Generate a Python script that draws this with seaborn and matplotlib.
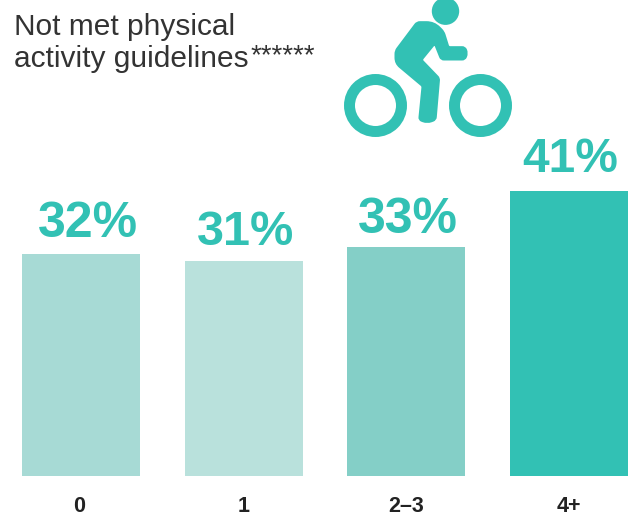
import matplotlib
matplotlib.use("Agg")
import matplotlib.pyplot as plt
import numpy as np
import seaborn as sns
import pandas as pd
from matplotlib.patches import Circle, PathPatch
from matplotlib.path import Path

categories = ["0", "1", "2–3", "4+"]
values = [32, 31, 33, 41]
labels = ["32%", "31%", "33%", "41%"]
colors = ["#A7DAD5", "#B9E1DC", "#84CFC7", "#32C1B4"]
title_lines = ["Not met physical", "activity guidelines"]
stars = "******"

plt.rcParams['font.family'] = ['Liberation Sans', 'DejaVu Sans']
fig = plt.figure(figsize=(6.4, 5.19), dpi=100)
ax = fig.add_axes([0, 0, 1, 1])
ax.set_xlim(-0.5, 639.5)
ax.set_ylim(518.5, -0.5)
ax.axis('off')

bx = fig.add_axes([0, (519-476)/519, 1, (476-191)/519])
df = pd.DataFrame({"c": categories, "v": values})
sns.barplot(data=df, x="c", y="v", hue="c", palette=colors, legend=False, ax=bx,
            width=0.725, saturation=1)
bx.set_xlim(-0.498, 3.436)
bx.set_ylim(0, 41)
bx.axis('off')

# value labels: placed relative to each bar (offsets in points)
label_dx = [5, 1.5, 1, 1]
label_dy = [12, 11.5, 10, 14]
label_sizes = [36, 35, 36, 34.5]
for i, (v, l) in enumerate(zip(values, labels)):
    bx.annotate(l, (i, v), xytext=(label_dx[i], label_dy[i]), textcoords='offset points',
                ha='center', va='baseline', fontsize=label_sizes[i], fontweight='bold',
                color="#32C1B4", clip_on=False)
for i, c in enumerate(categories):
    ax.text(bx.transData.transform((i, 0))[0] - (2 if i == 0 else 1), 506, c,
            ha='center', va='center', fontsize=15.5, fontweight='bold', color="#222222")

ax.text(13, 26.5, title_lines[0], fontsize=21.5, color="#333333", va='center')
ax.text(13, 58.5, title_lines[1], fontsize=21.5, color="#333333", va='center')
ax.text(250, 56, stars, fontsize=20, color="#333333", va='center')

teal = "#32C1B4"
ax.add_patch(Circle((375, 105), 26, fc='none', ec=teal, lw=7.9))
ax.add_patch(Circle((480, 105), 26, fc='none', ec=teal, lw=7.9))
ax.add_patch(Circle((445, 10.7), 13.7, fc=teal, ec='none'))

def rounded(pts):
    verts, codes = [], []
    n = len(pts)
    for k, (x, y, r) in enumerate(pts):
        p = np.array([x, y], float)
        a = np.array(pts[k-1][:2], float)
        b = np.array(pts[(k+1) % n][:2], float)
        p1 = p + (a-p)/np.linalg.norm(a-p)*r
        p2 = p + (b-p)/np.linalg.norm(b-p)*r
        verts.append(p1); codes.append(Path.MOVETO if k == 0 else Path.LINETO)
        verts += [p, p2]; codes += [Path.CURVE3, Path.CURVE3]
    verts.append(verts[0]); codes.append(Path.CLOSEPOLY)
    return Path(verts, codes)

rider = [(258, 62, 10), (312, 62, 24), (342, 92, 10), (356, 137, 3), (405, 137, 10), (414, 158, 12), (405, 180, 10),
         (330, 180, 10), (312, 135, 3), (277, 178, 3), (329, 232, 8), (318, 360, 10), (290, 370, 14), (263, 360, 10),
         (273, 258, 3), (192, 190, 18), (192, 150, 10)]
rider = [(330 + x/3, y/3, r/3) for x, y, r in rider]
ax.add_patch(PathPatch(rounded(rider), fc=teal, ec='none'))
fig.savefig("out.png", dpi=100)
